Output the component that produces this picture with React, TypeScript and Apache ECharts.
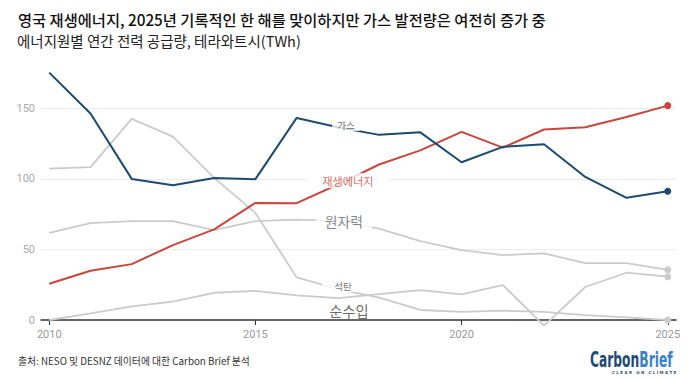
import React, { useEffect, useRef } from "react";
import * as echarts from "echarts";

const years = [2010, 2011, 2012, 2013, 2014, 2015, 2016, 2017, 2018, 2019, 2020, 2021, 2022, 2023, 2024, 2025];
const gas = [175.3, 146.3, 100, 95.5, 100.7, 99.8, 143.2, 136.6, 131.2, 133, 111.8, 122.7, 124.6, 101.4, 86.6, 91.3];
const renewables = [25.7, 34.9, 39.6, 53.1, 64.2, 83, 82.8, 96, 110.2, 120.2, 133.3, 122.2, 135, 136.6, 143.9, 151.9];
const coal = [107.3, 108.3, 142.5, 130, 100.7, 75.9, 30.2, 21.8, 15.8, 7.1, 5.7, 6.6, 5.7, 3.5, 1.9, 0];
const nuclear = [61.8, 68.6, 70, 70, 63.7, 70, 71.2, 70.3, 64.7, 55.9, 49.5, 46, 47.2, 40.3, 40.3, 35.6];
const imports = [0, 4.7, 9.7, 13, 19.3, 20.7, 17.5, 15.5, 18.3, 21.2, 18.2, 24.8, -4, 23.4, 33.5, 30.7];
const xTicks = [2010, 2015, 2020, 2025];
const labelYear = 2017;

const seriesNames = { gas: "가스", renewables: "재생에너지", nuclear: "원자력", coal: "석탄", imports: "순수입" };
const title = "영국 재생에너지, 2025년 기록적인 한 해를 맞이하지만 가스 발전량은 여전히 증가 중";
const subtitle = "에너지원별 연간 전력 공급량, 테라와트시(TWh)";
const source = "출처: NESO 및 DESNZ 데이터에 대한 Carbon Brief 분석";

const FONT = "Roboto, 'Noto Sans CJK KR', sans-serif";
const KFONT = "'Noto Sans CJK KR', Roboto, sans-serif";

export default function App() {
  const ref = useRef<HTMLDivElement>(null);
  useEffect(() => {
    document.body.style.margin = "0";
    if (!ref.current) return;
    const chart = echarts.init(ref.current, undefined, { renderer: "svg" });
    const last = years.length - 1;
    const toData = (arr: number[]) => years.map((y, i) => [y, arr[i]]);
    const lineSeries = (name: string, arr: number[], color: string, width: number, z: number) => ({
      type: "line",
      name,
      data: toData(arr),
      clip: false,
      showSymbol: true,
      symbol: "circle",
      symbolSize: (_v: any, p: any) => (p.dataIndex === last ? 7 : 0),
      lineStyle: { color, width },
      itemStyle: { color },
      z,
      silent: true,
    });
    const li = years.indexOf(labelYear);
    const lbl = (text: string, value: number, color: string, size: number, offset: number[], padding: number[]) => ({
      value: [labelYear, value],
      label: {
        show: true,
        formatter: text,
        position: "inside",
        color,
        fontSize: size,
        fontFamily: KFONT,
        backgroundColor: "#ffffff",
        padding,
        offset,
      },
    });
    chart.setOption({
      animation: false,
      backgroundColor: "#ffffff",
      textStyle: { fontFamily: FONT },
      title: [
        {
          text: title,
          left: 13,
          top: 6,
          textStyle: { fontFamily: KFONT, fontSize: 15.3, fontWeight: 500, color: "#111" },
        },
        {
          text: subtitle,
          left: 12,
          top: 28,
          textStyle: { fontFamily: KFONT, fontSize: 14.5, fontWeight: 400, color: "#222" },
        },
        {
          text: source,
          left: 13,
          top: 351,
          textStyle: { fontFamily: KFONT, fontSize: 9.8, fontWeight: 400, color: "#333" },
        },
      ],
      grid: { left: 41, right: 24, top: 66, bottom: 58 },
      xAxis: {
        type: "value",
        min: 2009.8,
        max: 2025.2,
        splitLine: { show: false },
        axisLine: { show: true, onZero: true, lineStyle: { color: "#333", width: 1.5 } },
        axisTick: { show: true, customValues: xTicks, length: 5, lineStyle: { color: "#333" } },
        axisLabel: {
          customValues: xTicks,
          color: "#999",
          fontSize: 11,
          margin: 9,
          formatter: (v: number) => String(v),
        },
      },
      yAxis: {
        type: "value",
        min: 0,
        max: 180,
        interval: 50,
        axisLine: { show: false },
        axisTick: { show: false },
        axisLabel: { color: "#aaa", fontSize: 11, margin: 6, showMaxLabel: false },
        splitLine: { show: true, showMinLine: false, showMaxLine: false, lineStyle: { color: "#ebebeb", width: 1 } },
      },
      series: [
        lineSeries(seriesNames.coal, coal, "#cbcbcb", 1.8, 2),
        lineSeries(seriesNames.nuclear, nuclear, "#cbcbcb", 1.8, 2),
        lineSeries(seriesNames.imports, imports, "#cbcbcb", 1.8, 2),
        lineSeries(seriesNames.renewables, renewables, "#c8463b", 2, 3),
        lineSeries(seriesNames.gas, gas, "#1c4a70", 2, 4),
        {
          type: "scatter",
          symbolSize: 0,
          z: 10,
          silent: true,
          clip: false,
          data: [
            lbl(seriesNames.gas, gas[li], "#444", 9.5, [8, -2], [1, 5]),
            lbl(seriesNames.renewables, renewables[li], "#c8463b", 11.2, [10, -4], [2, 14]),
            lbl(seriesNames.nuclear, nuclear[li], "#666", 13.8, [6, 0], [1, 9]),
            lbl(seriesNames.coal, coal[li], "#555", 9.5, [5, -3], [1, 12]),
            lbl(seriesNames.imports, imports[li], "#444", 14.3, [11, 12], [0, 2]),
          ],
        },
      ],
      graphic: [
        {
          type: "text",
          x: 590,
          y: 348,
          scaleX: 0.62,
          style: {
            text: "{a|Carbon}{b|Brief}",
            rich: {
              a: { fontFamily: "'DejaVu Sans Condensed', 'DejaVu Sans', sans-serif", fontWeight: "bold", fontSize: 22, fill: "#1f4a75" },
              b: { fontFamily: "'DejaVu Sans Condensed', 'DejaVu Sans', sans-serif", fontWeight: "bold", fontSize: 22, fill: "#3a82c4" },
            },
          } as any,
        },
        {
          type: "text",
          x: 612,
          y: 370,
          style: {
            text: "C L E A R   O N   C L I M A T E",
            fontFamily: "'DejaVu Sans', sans-serif",
            fontSize: 4,
            fontWeight: "bold",
            fill: "#2a4f78",
          },
        },
      ],
    });
    return () => chart.dispose();
  }, []);
  return <div ref={ref} style={{ width: 700, height: 378 }} />;
}
